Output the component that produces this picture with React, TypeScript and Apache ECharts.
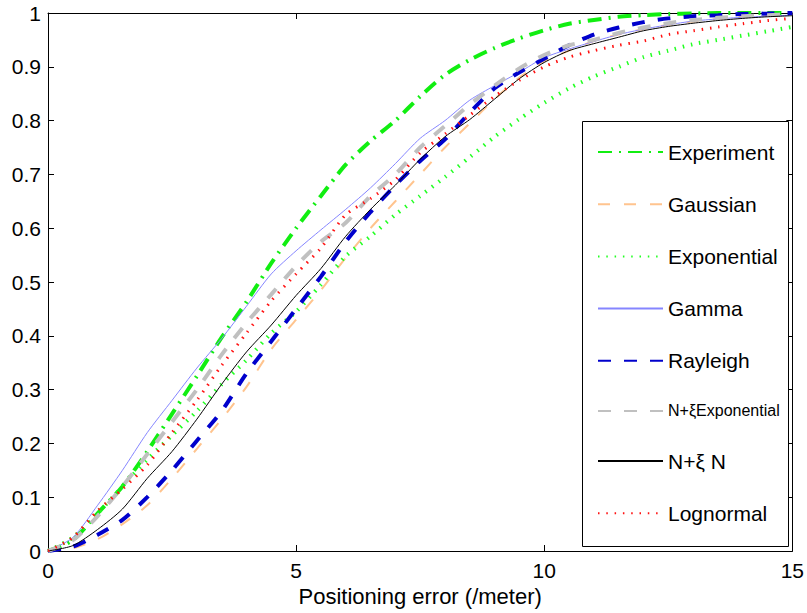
import React, { useEffect, useRef } from "react";
import * as echarts from "echarts";

// Positioning error (metres) at which each CDF is sampled
const errorMeters = [
  0, 0.5, 1, 1.5, 2, 2.5, 3, 3.5, 4, 4.5, 5, 5.5, 6, 6.5, 7, 7.5, 8, 8.5, 9, 9.5,
  10, 10.5, 11, 11.5, 12, 12.5, 13, 13.5, 14, 14.5, 15,
];

const experiment = [
  0, 0.02, 0.07, 0.12, 0.185, 0.255, 0.325, 0.397, 0.463, 0.535, 0.6, 0.66, 0.718, 0.762, 0.8, 0.845,
  0.885, 0.913, 0.935, 0.953, 0.968, 0.98, 0.987, 0.993, 0.996, 0.998, 0.999, 1, 1, 1, 1,
];
const gaussian = [
  0, 0.005, 0.022, 0.05, 0.085, 0.135, 0.19, 0.245, 0.305, 0.375, 0.43, 0.485, 0.545, 0.6, 0.65, 0.7,
  0.75, 0.795, 0.84, 0.88, 0.91, 0.93, 0.948, 0.96, 0.97, 0.978, 0.984, 0.989, 0.993, 0.996, 0.998,
];
const exponential = [
  0, 0.025, 0.07, 0.12, 0.17, 0.215, 0.26, 0.31, 0.355, 0.405, 0.445, 0.495, 0.548, 0.585, 0.625, 0.66,
  0.695, 0.732, 0.77, 0.803, 0.833, 0.86, 0.882, 0.9, 0.918, 0.93, 0.942, 0.95, 0.958, 0.966, 0.974,
];
const gamma = [
  0, 0.025, 0.085, 0.15, 0.22, 0.28, 0.34, 0.395, 0.455, 0.515, 0.558, 0.597, 0.635, 0.675, 0.72, 0.767,
  0.8, 0.838, 0.865, 0.89, 0.917, 0.933, 0.947, 0.96, 0.97, 0.978, 0.985, 0.989, 0.992, 0.994, 0.996,
];
const rayleigh = [
  0, 0.008, 0.03, 0.058, 0.1, 0.15, 0.205, 0.26, 0.33, 0.39, 0.45, 0.51, 0.575, 0.63, 0.68, 0.725,
  0.765, 0.815, 0.86, 0.89, 0.915, 0.94, 0.96, 0.973, 0.983, 0.99, 0.994, 0.996, 0.998, 0.999, 1,
];
const nXiExponential = [
  0, 0.02, 0.065, 0.12, 0.18, 0.24, 0.3, 0.365, 0.424, 0.477, 0.53, 0.575, 0.61, 0.66, 0.7, 0.75,
  0.79, 0.83, 0.865, 0.897, 0.922, 0.94, 0.95, 0.963, 0.973, 0.981, 0.987, 0.991, 0.994, 0.996, 0.998,
];
const nXiN = [
  0, 0.01, 0.04, 0.078, 0.135, 0.185, 0.245, 0.31, 0.37, 0.42, 0.475, 0.525, 0.585, 0.635, 0.68, 0.728,
  0.77, 0.802, 0.84, 0.878, 0.908, 0.93, 0.943, 0.955, 0.967, 0.975, 0.981, 0.986, 0.99, 0.993, 0.995,
];
const lognormal = [
  0, 0.025, 0.075, 0.115, 0.16, 0.22, 0.28, 0.345, 0.405, 0.465, 0.515, 0.563, 0.625, 0.655, 0.69, 0.74,
  0.775, 0.81, 0.845, 0.875, 0.9, 0.918, 0.93, 0.94, 0.948, 0.96, 0.967, 0.974, 0.98, 0.986, 0.99,
];

const seriesNames = [
  "Experiment",
  "Gaussian",
  "Exponential",
  "Gamma",
  "Rayleigh",
  "N+ξExponential",
  "N+ξ N",
  "Lognormal",
];
const seriesValues = [experiment, gaussian, exponential, gamma, rayleigh, nXiExponential, nXiN, lognormal];

const xTickLabels = ["0", "5", "10", "15"];
const yTickLabels = ["0", "0.1", "0.2", "0.3", "0.4", "0.5", "0.6", "0.7", "0.8", "0.9", "1"];
const xAxisTitle = "Positioning error (/meter)";

const FONT = "'Liberation Sans', Arial, sans-serif";

const styles: Record<string, { color: string; width: number; type: any }> = {
  Experiment: { color: "#11ee11", width: 4, type: [14, 7, 2, 7] },
  Gaussian: { color: "#ffc48e", width: 2, type: [12, 14] },
  Exponential: { color: "#22ff22", width: 4, type: [1.5, 6.8] },
  Gamma: { color: "#8585ff", width: 1, type: "solid" },
  Rayleigh: { color: "#0000cc", width: 4, type: [13, 13] },
  "N+ξExponential": { color: "#c0c0c0", width: 4, type: [13, 13] },
  "N+ξ N": { color: "#000000", width: 1, type: "solid" },
  Lognormal: { color: "#ff1111", width: 3, type: [1.5, 6.8] },
};

export default function App() {
  const ref = useRef<HTMLDivElement>(null);

  useEffect(() => {
    if (!ref.current) return;
    const chart = echarts.init(ref.current, undefined, { renderer: "svg" });

    const xMax = Number(xTickLabels[xTickLabels.length - 1]);
    const xInterval = Number(xTickLabels[1]) - Number(xTickLabels[0]);

    const axisCommon = {
      axisLine: { show: true, onZero: false, lineStyle: { color: "#000", width: 1 } },
      axisTick: { show: true, inside: true, length: 6, lineStyle: { color: "#000", width: 1 } },
      splitLine: { show: false },
    };

    const series = seriesNames.map((name, i) => {
      const st = styles[name];
      return {
        name,
        type: "line",
        xAxisIndex: 0,
        yAxisIndex: 0,
        symbol: "none",
        smooth: 0.25,
        data: errorMeters.map((x, j) => [x, seriesValues[i][j]]),
        lineStyle: { color: st.color, width: st.width, type: st.type, cap: "butt" },
        itemStyle: { color: st.color },
        emphasis: { disabled: true },
        z: 2,
      };
    });

    chart.setOption({
      animation: false,
      backgroundColor: "#fff",
      textStyle: { fontFamily: FONT },
      grid: { left: 48, right: 14, top: 13, bottom: 62, containLabel: false },
      xAxis: [
        {
          type: "value",
          min: 0,
          max: xMax,
          interval: xInterval,
          position: "bottom",
          name: xAxisTitle,
          nameLocation: "middle",
          nameGap: 30,
          nameTextStyle: { fontSize: 22, color: "#000", fontFamily: FONT },
          axisLabel: {
            show: true,
            margin: 9,
            fontSize: 21,
            color: "#000",
            fontFamily: FONT,
            formatter: (v: number) => xTickLabels.find((t) => Number(t) === v) ?? "",
          },
          ...axisCommon,
        },
        {
          type: "value",
          min: 0,
          max: xMax,
          interval: xInterval,
          position: "top",
          axisLabel: { show: false },
          ...axisCommon,
        },
      ],
      yAxis: [
        {
          type: "value",
          min: 0,
          max: 1,
          interval: 0.1,
          position: "left",
          axisLabel: {
            show: true,
            margin: 7,
            fontSize: 21,
            color: "#000",
            fontFamily: FONT,
            formatter: (v: number) => yTickLabels.find((t) => Math.abs(Number(t) - v) < 1e-9) ?? "",
          },
          ...axisCommon,
        },
        {
          type: "value",
          min: 0,
          max: 1,
          interval: 0.1,
          position: "right",
          axisLabel: { show: false },
          ...axisCommon,
        },
      ],
      legend: {
        show: true,
        orient: "vertical",
        left: 597,
        top: 141.5,
        padding: 0,
        itemGap: 31.2,
        itemWidth: 65,
        itemHeight: 21,
        selectedMode: false,
        data: seriesNames,
        z: 4,
        itemStyle: { opacity: 0, borderWidth: 0 },
        textStyle: {
          fontSize: 21,
          color: "#000",
          fontFamily: FONT,
          rich: { s: { fontSize: 16, color: "#000", fontFamily: FONT } },
        },
        formatter: (name: string) => (name === "N+ξExponential" ? `{s|${name}}` : name),
      },
      graphic: [
        {
          type: "rect",
          z: 3,
          shape: { x: 582.5, y: 121.5, width: 206, height: 425 },
          style: { fill: "#fff", stroke: "#000", lineWidth: 1 },
          silent: true,
        },
      ],
      series,
    });

    return () => chart.dispose();
  }, []);

  return (
    <div
      ref={ref}
      style={{ position: "fixed", left: 0, top: 0, width: 807, height: 613, background: "#fff" }}
    />
  );
}
